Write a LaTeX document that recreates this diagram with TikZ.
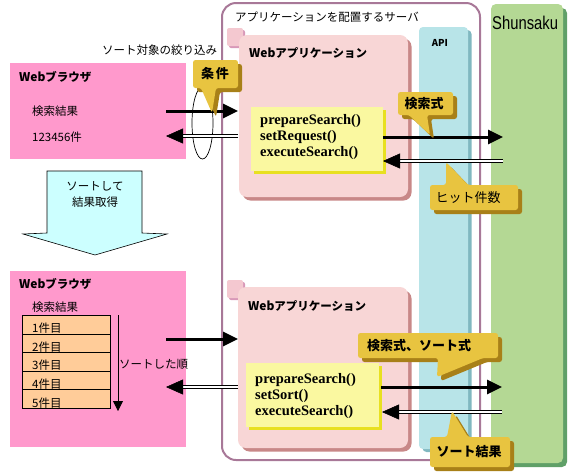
\documentclass[tikz,border=0pt]{standalone}
\usepackage{fontspec}
\setmainfont{Liberation Serif}
\newfontfamily\jpf{Noto Sans CJK JP}
\newfontfamily\sanf{Liberation Sans}
\usetikzlibrary{arrows.meta,shadows,calc}
\definecolor{brpink}{HTML}{FF99CC}
\definecolor{srvline}{HTML}{A87898}
\definecolor{appfill}{HTML}{F8D6D6}
\definecolor{appshadow}{HTML}{C88888}
\definecolor{tabfill}{HTML}{F4C8D0}
\definecolor{tabshadow}{HTML}{D898B8}
\definecolor{codefill}{HTML}{FAF8A0}
\definecolor{codeshadow}{HTML}{E8E020}
\definecolor{apifill}{HTML}{B8E4E8}
\definecolor{apishadow}{HTML}{80B8C0}
\definecolor{shunfill}{HTML}{B4D894}
\definecolor{shunshadow}{HTML}{60A068}
\definecolor{callfill}{HTML}{E8C440}
\definecolor{callshadow}{HTML}{A88018}
\definecolor{sortfill}{HTML}{CCFFFF}
\definecolor{rowfill}{HTML}{FFCC99}
\tikzset{
  box/.style={anchor=north west, inner sep=0pt, outer sep=0pt},
  jp/.style={font=\jpf\fontsize{11.5}{13}\selectfont, inner sep=0pt, anchor=west},
  jpb/.style={font=\jpf\bfseries\fontsize{11.5}{13}\selectfont, inner sep=0pt, anchor=west},
  codetext/.style={font=\bfseries\fontsize{14.5}{16}\selectfont, inner sep=0pt, anchor=west},
  calltext/.style={font=\jpf\bfseries\fontsize{13}{15}\selectfont, inner sep=0pt},
  callnorm/.style={font=\jpf\fontsize{13}{15}\selectfont, inner sep=0pt},
  callout/.style={fill=callfill, rounded corners=2.5pt,
    drop shadow={shadow xshift=4pt, shadow yshift=-4pt, fill=callshadow, opacity=1}},
  thickarr/.style={line width=3pt, -{Triangle[length=15pt,width=14pt]}},
}
\newcommand\dblarr[2]{%
  \draw[line width=0.9pt, double distance=2pt, shorten >=14pt] (#1) -- (#2);
  \draw[line width=0.5pt, -{Triangle[length=17pt,width=15pt]}] ($(#2)!16pt!(#1)$) -- (#2);}
\newcommand\webtxt[1]{{\bfseries\fontsize{12}{13}\selectfont Web}{\jpf\bfseries #1}}
\begin{document}
\begin{tikzpicture}[x=1pt,y=-1pt]
\useasboundingbox (0,0) rectangle (582,475);
% server
\node[box, draw=srvline, line width=2pt, rounded corners=14pt, fill=white,
  minimum width=258pt, minimum height=457pt] (srv) at (222,3) {};
\node[jp] (srvtitle) at (235,17) {アプリケーションを配置するサーバ};
% API column
\node[box, fill=apifill, rounded corners=4pt, minimum width=49pt, minimum height=422pt,
  drop shadow={shadow xshift=3.5pt, shadow yshift=-3pt, fill=apishadow, opacity=1}] (api) at (419,27) {};
\node[font=\jpf\bfseries\fontsize{9.5}{11}\selectfont, inner sep=0pt] (apitext) at (440,43) {API};
% Shunsaku column
\node[box, fill=shunfill, rounded corners=5pt, minimum width=72pt, minimum height=459pt,
  drop shadow={shadow xshift=4pt, shadow yshift=-4pt, fill=shunshadow, opacity=1}] (shun) at (491,4) {};
\node[font=\sanf\fontsize{14.8}{16}\selectfont, inner sep=0pt, anchor=base west, yscale=1.25] (shuntext) at (492,29) {Shunsaku};
% tabs
\node[box, fill=tabfill, rounded corners=2pt, minimum width=16pt, minimum height=18pt,
  drop shadow={shadow xshift=2pt, shadow yshift=-2pt, fill=tabshadow, opacity=1}] (tab1) at (227,28) {};
\node[box, fill=tabfill, rounded corners=2pt, minimum width=16pt, minimum height=18pt,
  drop shadow={shadow xshift=2pt, shadow yshift=-2pt, fill=tabshadow, opacity=1}] (tab2) at (227,280) {};
% web app boxes
\node[box, fill=appfill, rounded corners=8pt, minimum width=169pt, minimum height=162pt,
  drop shadow={shadow xshift=3.5pt, shadow yshift=-3.5pt, fill=appshadow, opacity=1}] (app1) at (239,35) {};
\node[box, fill=appfill, rounded corners=8pt, minimum width=170pt, minimum height=161pt,
  drop shadow={shadow xshift=3.5pt, shadow yshift=-3.5pt, fill=appshadow, opacity=1}] (app2) at (238,287) {};
\node[jp] (app1t) at (249,53) {\webtxt{アプリケーション}};
\node[jp] (app2t) at (248,306) {\webtxt{アプリケーション}};
% code boxes
\node[box, fill=codefill, minimum width=132pt, minimum height=64pt,
  drop shadow={shadow xshift=3pt, shadow yshift=-3pt, fill=codeshadow, opacity=1}] (code1) at (251,107) {};
\node[box, fill=codefill, minimum width=133pt, minimum height=64pt,
  drop shadow={shadow xshift=3pt, shadow yshift=-3pt, fill=codeshadow, opacity=1}] (code2) at (246,363) {};
\node[codetext] (c1a) at (260,121) {prepareSearch()};
\node[codetext] (c1b) at (260,137) {setRequest()};
\node[codetext] (c1c) at (260,153) {executeSearch()};
\node[codetext] (c2a) at (255,380) {prepareSearch()};
\node[codetext] (c2b) at (255,396) {setSort()};
\node[codetext] (c2c) at (255,412) {executeSearch()};
% browsers
\node[box, fill=brpink, minimum width=176pt, minimum height=96pt] (br1) at (10,63) {};
\node[box, fill=brpink, minimum width=176pt, minimum height=176pt] (br2) at (10,271) {};
\node[jp] (br1t) at (19,77) {\webtxt{ブラウザ}};
\node[jp] (br1a) at (32,111) {検索結果};
\node[jp] (br1b) at (32,137) {123456件};
\node[jp] (br2t) at (19,284) {\webtxt{ブラウザ}};
\node[jp] (br2a) at (32,307) {検索結果};
\node[jp] (narrow) at (102,50) {ソート対象の絞り込み};
% table of results
\foreach \i/\t in {0/1件目,1/2件目,2/3件目,3/4件目,4/5件目}{
  \node[box, draw=black, line width=0.8pt, fill=rowfill, minimum width=88pt, minimum height=18.6pt]
    (row\i) at (22,{315.3+18.6*\i}) {};
  \node[jp] (rowt\i) at (32,{328.3+18.6*\i}) {\t};
}
\coordinate (ord1) at (118,315);
\coordinate (ord2) at (118,411);
\draw[line width=0.8pt, -{Triangle[length=10pt,width=10pt]}] (ord1) -- (ord2);
\node[jp] (ordt) at (119,364) {ソートした順};
% big down arrow
\draw[fill=sortfill, line width=0.6pt] (47,171) -- (142,171) -- (142,233) -- (167,234)
  -- (95,255) -- (23,234) -- (47,233) -- cycle;
\node[jp, anchor=center] (sort1) at (95,186) {ソートして};
\node[jp, anchor=center] (sort2) at (95,202) {結果取得};
% ellipse
\draw[line width=0.7pt] (202.5,123) ellipse [x radius=10.5, y radius=36];
% arrows
\coordinate (a1s) at (166,111); \coordinate (a1e) at (238,111);
\coordinate (r1s) at (238,136); \coordinate (r1e) at (166,136);
\coordinate (a2s) at (383,137); \coordinate (a2e) at (503,137);
\coordinate (r2s) at (503,161); \coordinate (r2e) at (383,161);
\coordinate (a3s) at (166,339); \coordinate (a3e) at (238,339);
\coordinate (r3s) at (238,387); \coordinate (r3e) at (166,387);
\coordinate (a4s) at (381,387); \coordinate (a4e) at (502,387);
\coordinate (r4s) at (502,412); \coordinate (r4e) at (382,412);
\draw[thickarr] (a1s) -- (a1e);
\draw[thickarr] (a2s) -- (a2e);
\draw[thickarr] (a3s) -- (a3e);
\draw[thickarr] (a4s) -- (a4e);
\dblarr{r1s}{r1e}
\dblarr{r2s}{r2e}
\dblarr{r3s}{r3e}
\dblarr{r4s}{r4e}
% callouts
\path[callout] (193,60) -- (238,60) -- (238,88) -- (216,88) -- (212,113) -- (201,88) -- (193,88) -- cycle;
\node[calltext] (k1) at (215,74) {条\hspace{2pt}件};
\path[callout] (398,92) -- (453,92) -- (453,115) -- (427,115) -- (430,135) -- (409,115) -- (398,115) -- cycle;
\node[calltext] (k2) at (424,104) {検索式};
\path[callout] (430,185) -- (446,185) -- (446,162) -- (468,185) -- (518,185) -- (518,210) -- (430,210) -- cycle;
\node[callnorm] (k3) at (468,198) {ヒット件数};
\path[callout] (358,333) -- (498,333) -- (498,358) -- (483,358) -- (437,377) -- (438,358) -- (358,358) -- cycle;
\node[calltext] (k4) at (419,346) {検索式、ソート式};
\path[callout] (430,437) -- (447,437) -- (452,411) -- (468,437) -- (510,437) -- (510,467) -- (430,467) -- cycle;
\node[calltext] (k5) at (469,452) {ソート結果};
\end{tikzpicture}
\end{document}
